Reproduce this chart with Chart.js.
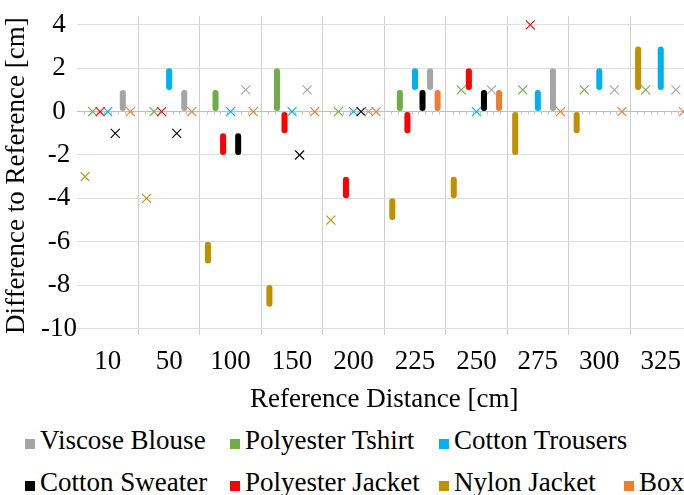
<!DOCTYPE html>
<html>
<head>
<meta charset="utf-8">
<script src="https://cdn.jsdelivr.net/npm/chart.js@4.4.1/dist/chart.umd.min.js"></script>
<style>
  html, body { margin: 0; padding: 0; background: #fff; overflow: hidden; }
  body { width: 684px; height: 495px; position: relative; }
  #wrap { position: absolute; left: 0; top: 0; width: 692px; height: 420px; }
  .legend-item {
    position: absolute;
    font-family: "Liberation Serif", serif;
    font-size: 27px;
    line-height: 30px;
    color: #000;
    white-space: nowrap;
  }
  .legend-item span.box {
    display: inline-block;
    width: 10px;
    height: 10px;
    margin-right: 5px;
  }
</style>
</head>
<body>
<div id="wrap"><canvas id="chart"></canvas></div>
<div id="legend"></div>
<script>
// categories on the x axis (reference distance in cm)
const categories = ["10", "50", "100", "150", "200", "225", "250", "275", "300", "325"];
const yTicks = [-10, -8, -6, -4, -2, 0, 2, 4];

// a number = single value (drawn as x), [low, high] = range (drawn as bar), null = no data
const nylonJacket = [-3, -4, [-7, -6], [-9, -8], -5, [-5, -4], [-4, -3], [-2, 0], [-1, 0], [1, 3]];
const polyesterTshirt = [0, 0, [0, 1], [0, 2], 0, [0, 1], 1, 1, 1, 1];
const polyesterJacket = [0, 0, [-2, -1], [-1, 0], [-4, -3], [-1, 0], [1, 2], 4, null, null];
const cottonTrousers = [0, [1, 2], 0, 0, 0, [1, 2], 0, [0, 1], [1, 2], [1, 3]];
const cottonSweater = [-1, -1, [-2, -1], -2, 0, [0, 1], [0, 1], null, null, null];
const viscoseBlouse = [[0, 1], [0, 1], 1, 1, 0, [1, 2], 1, [0, 2], 1, 1];
const box = [0, 0, 0, 0, 0, [0, 1], [0, 1], 0, 0, 0];

// order of the bars inside each group
const series = [
  { label: "Nylon Jacket", values: nylonJacket, color: "#BF9000" },
  { label: "Polyester Tshirt", values: polyesterTshirt, color: "#70AD47" },
  { label: "Polyester Jacket", values: polyesterJacket, color: "#FF0000" },
  { label: "Cotton Trousers", values: cottonTrousers, color: "#00B0F0" },
  { label: "Cotton Sweater", values: cottonSweater, color: "#000000" },
  { label: "Viscose Blouse", values: viscoseBlouse, color: "#A5A5A5" },
  { label: "Box", values: box, color: "#ED7D31" },
];

// legend layout (rows of labels as in the original)
const legendRows = [
  ["Viscose Blouse", "Polyester Tshirt", "Cotton Trousers"],
  ["Cotton Sweater", "Polyester Jacket", "Nylon Jacket", "Box"],
];

const FONT = "Liberation Serif";

// small tick marks along the zero line (9 per category)
const zeroTicksPlugin = {
  id: "zeroTicks",
  beforeDatasetsDraw(chart) {
    const ctx = chart.ctx;
    const xs = chart.scales.x;
    const y0 = chart.scales.y.getPixelForValue(0);
    const band = xs.getPixelForValue(1) - xs.getPixelForValue(0);
    ctx.save();
    ctx.strokeStyle = "#c8c8c8";
    ctx.lineWidth = 1;
    ctx.beginPath();
    for (let i = 0; i < categories.length; i++) {
      const start = xs.getPixelForValue(i) - band / 2;
      for (let k = 1; k < 9; k++) {
        const px = Math.round(start + (band * k) / 9) + 0.5;
        ctx.moveTo(px, y0);
        ctx.lineTo(px, y0 + 3);
      }
    }
    ctx.stroke();
    ctx.restore();
  },
};

// draws an "x" for every single-value entry, at the position of its (empty) bar
const crossPlugin = {
  id: "crossMarks",
  afterDatasetsDraw(chart) {
    const ctx = chart.ctx;
    chart.data.datasets.forEach((ds, di) => {
      const meta = chart.getDatasetMeta(di);
      ds.rawValues.forEach((v, i) => {
        if (v === null || Array.isArray(v)) return;
        const el = meta.data[i];
        const r = 4.5;
        ctx.save();
        ctx.strokeStyle = ds.markColor;
        ctx.lineWidth = 1.1;
        ctx.beginPath();
        ctx.moveTo(el.x - r, el.y - r);
        ctx.lineTo(el.x + r, el.y + r);
        ctx.moveTo(el.x + r, el.y - r);
        ctx.lineTo(el.x - r, el.y + r);
        ctx.stroke();
        ctx.restore();
      });
    });
  },
};

document.addEventListener("DOMContentLoaded", () => {
  const datasets = series.map((s) => ({
    label: s.label,
    rawValues: s.values,
    markColor: s.color,
    data: s.values.map((v) => (v === null ? null : Array.isArray(v) ? v : [v, v])),
    backgroundColor: s.values.map((v) => (Array.isArray(v) ? s.color : "rgba(0,0,0,0)")),
    borderWidth: 0,
    borderRadius: 3,
    borderSkipped: false,
    categoryPercentage: 0.86,
    barPercentage: 0.8,
  }));

  new Chart(document.getElementById("chart"), {
    type: "bar",
    data: { labels: categories, datasets: datasets },
    options: {
      responsive: true,
      maintainAspectRatio: false,
      animation: false,
      layout: { padding: 0 },
      plugins: {
        legend: { display: false },
        tooltip: { enabled: false },
      },
      scales: {
        x: {
          grid: {
            offset: true,
            drawTicks: false,
            color: (c) => (c.index === 0 ? "rgba(0,0,0,0)" : "#cfcfcf"),
          },
          border: { display: false },
          ticks: {
            color: "#000",
            padding: 11,
            maxRotation: 0,
            font: { family: FONT, size: 27 },
          },
          title: {
            display: true,
            text: "Reference Distance [cm]",
            color: "#000",
            font: { family: FONT, size: 27 },
            padding: { top: 4, bottom: 4 },
          },
          afterFit: (scale) => {
            scale.height = 85;
          },
        },
        y: {
          min: -10.3,
          max: 4.4,
          afterBuildTicks: (scale) => {
            scale.ticks = yTicks.map((v) => ({ value: v }));
          },
          grid: {
            drawTicks: false,
            color: (c) => (c.tick && c.tick.value === 0 ? "#bfbfbf" : "#dedede"),
          },
          border: { display: false },
          ticks: {
            color: "#000",
            padding: 0,
            crossAlign: "center",
            font: { family: FONT, size: 27 },
          },
          title: {
            display: true,
            text: "Difference to Reference [cm]",
            color: "#000",
            font: { family: FONT, size: 27 },
            padding: { top: 1, bottom: 4 },
          },
          afterFit: (scale) => {
            scale.width = 77;
          },
        },
      },
    },
    plugins: [zeroTicksPlugin, crossPlugin],
  });

  // legend built from the series list
  const legendEl = document.getElementById("legend");
  const colX = [25, 230, 439, 624];
  const rowTop = [425, 467];
  legendRows.forEach((row, ri) => {
    row.forEach((name, ci) => {
      const s = series.find((x) => x.label === name);
      const item = document.createElement("div");
      item.className = "legend-item";
      item.style.left = colX[ci] + "px";
      item.style.top = rowTop[ri] + "px";
      item.innerHTML = '<span class="box" style="background:' + s.color + '"></span>' + name;
      legendEl.appendChild(item);
    });
  });
});
</script>
</body>
</html>
